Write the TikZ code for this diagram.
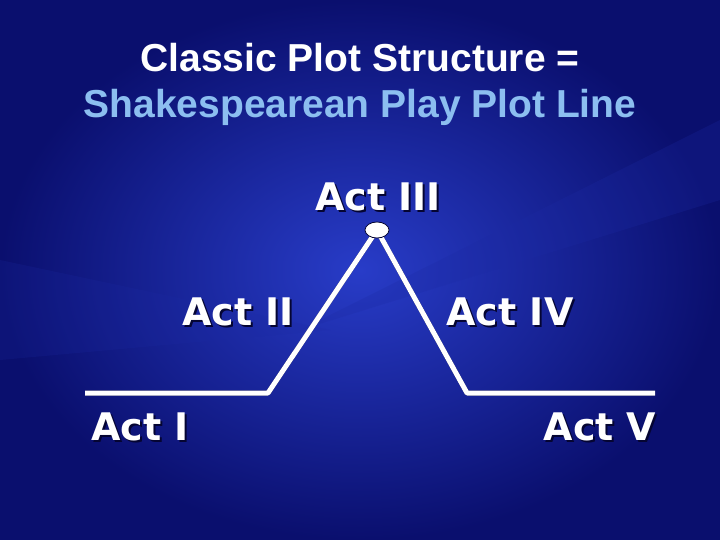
\documentclass[tikz,border=0pt]{standalone}
\usepackage{fontspec}
\usetikzlibrary{shapes.geometric}
\setmainfont{Liberation Sans}
\newfontfamily\actfont{DejaVu Sans}
\definecolor{bgdark}{RGB}{10,15,110}
\definecolor{bglight}{RGB}{40,60,200}
\definecolor{titleblue}{RGB}{140,190,240}
\definecolor{shadowc}{RGB}{5,5,50}
\begin{document}
\begin{tikzpicture}[x=1pt,y=-1pt,
  title/.style={font=\fontsize{39}{44}\selectfont\bfseries},
  act/.style={font=\actfont\fontsize{38}{44}\selectfont\bfseries, text=white},
  actshadow/.style={font=\actfont\fontsize{38}{44}\selectfont\bfseries, text=shadowc},
  plotline/.style={white, line width=5pt, line join=round},
  plotshadow/.style={shadowc, line width=5pt, line join=round}]
\useasboundingbox (0,0) rectangle (720,540);
\shade[inner color=bglight, outer color=bgdark] (0,0) rectangle (720,540);
\fill[bglight!60!bgdark, opacity=0.25] (720,120) -- (300,330) -- (720,200) -- cycle;
\fill[bglight!60!bgdark, opacity=0.2] (0,260) -- (330,330) -- (0,360) -- cycle;
\node[title, text=white] (t1) at (360,58) {Classic Plot Structure =};
\node[title, text=titleblue] (t2) at (360,107) {Shakespearean Play Plot Line};
\coordinate (p1) at (85,393);
\coordinate (p2) at (268,393);
\coordinate (p3) at (377,230);
\coordinate (p4) at (467,393);
\coordinate (p5) at (655,393);
\draw[plotshadow, shift={(2,2)}] (p1) -- (p2) -- (p3) -- (p4) -- (p5);
\draw[plotline] (p1) -- (p2) -- (p3) -- (p4) -- (p5);
\node[draw=shadowc, fill=white, ellipse, minimum width=24pt, minimum height=16pt, inner sep=0pt, line width=0.8pt] (top) at (p3) {};
\foreach \name/\x/\y/\t in {a3/378/197/Act III, a2/238/312/Act II, a4/510/312/Act IV, a1/140/427/Act I, a5/600/427/Act V}{
  \node[actshadow] (\name s) at (\x+2,\y+2) {\t};
  \node[act] (\name) at (\x,\y) {\t};
}
\end{tikzpicture}
\end{document}
